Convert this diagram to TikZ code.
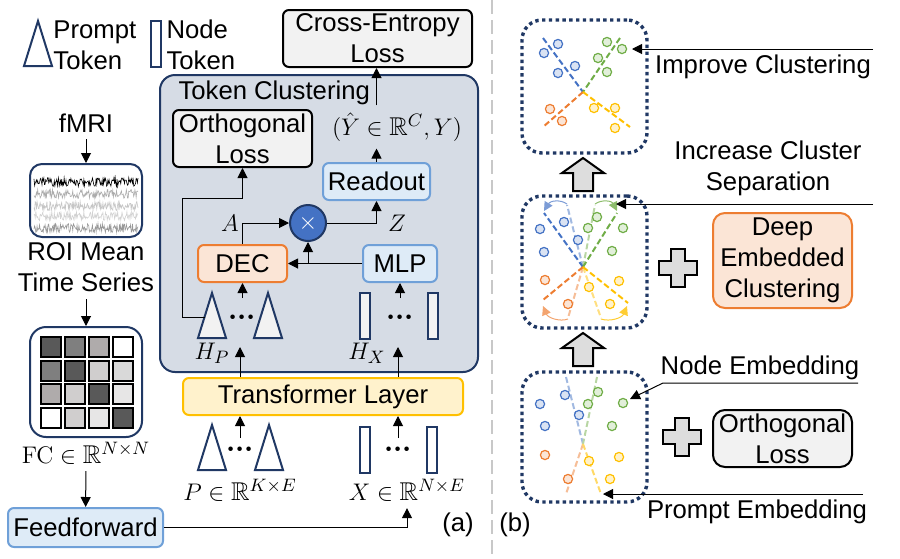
\documentclass[tikz,border=0pt]{standalone}
\usepackage{amsmath,amssymb}
\usepackage[no-math]{fontspec}
\setmainfont{Liberation Sans}
\usetikzlibrary{arrows.meta}

\definecolor{navy}{HTML}{203864}
\definecolor{tcfill}{HTML}{D6DCE5}
\definecolor{boxgray}{HTML}{F2F2F2}
\definecolor{bluefill}{HTML}{DEEBF7}
\definecolor{bluedge}{HTML}{6FA0D8}
\definecolor{orangefill}{HTML}{FBE5D6}
\definecolor{orangedge}{HTML}{ED7D31}
\definecolor{yfill}{HTML}{FFF2CC}
\definecolor{yedge}{HTML}{FFC000}
\definecolor{multblue}{HTML}{4472C4}
\definecolor{sepgray}{HTML}{C8C8C8}
\definecolor{arrgray}{HTML}{DDDDDD}
\definecolor{cblue}{HTML}{4472C4}
\definecolor{cgreen}{HTML}{70AD47}
\definecolor{corange}{HTML}{ED7D31}
\definecolor{cyellow}{HTML}{FFC000}
\definecolor{ga}{HTML}{595959}
\definecolor{gb}{HTML}{7F7F7F}
\definecolor{gc}{HTML}{AFABAB}
\definecolor{gd}{HTML}{D0CECE}
\definecolor{ge}{HTML}{D9D9D9}
\definecolor{gf}{HTML}{E7E6E6}

% prompt token (apex x, apex y, fill) and node token (left x, top y, fill)
\newcommand{\ptok}[3]{\draw[draw=navy,line width=1pt,fill=#3] (#1,#2)--++(-14,45)--++(28,0)--cycle;}
\newcommand{\ntok}[3]{\draw[draw=navy,line width=1pt,fill=#3] (#1,#2) rectangle ++(10,46);}
\newcommand{\uparr}[2]{\draw[line width=1pt,fill=arrgray] (#1,#2)--++(21,15)--++(-11,0)--++(0,18)--++(-20,0)--++(0,-18)--++(-11,0)--cycle;}
\newcommand{\plussign}[2]{\draw[line width=1pt,fill=arrgray] (#1,#2) ++(-7,-19)--++(14,0)--++(0,12)--++(12,0)--++(0,14)--++(-12,0)--++(0,12)--++(-14,0)--++(0,-12)--++(-12,0)--++(0,-14)--++(12,0)--cycle;}

\begin{document}
\begin{tikzpicture}[x=.5pt,y=-.5pt,>={Triangle[length=5pt,width=5pt]},
  every node/.style={font=\fontsize{12.85}{15.5}\selectfont},line width=.5pt,
  box/.style={draw,rounded corners=3pt,line width=1pt,align=center,inner sep=0pt},
  graybox/.style={box,fill=boxgray},
  bluebox/.style={box,draw=bluedge,fill=bluefill},
  orangebox/.style={box,draw=orangedge,fill=orangefill},
  clusterbox/.style={draw=navy,line width=1.7pt,dash pattern=on 1.7pt off 1.7pt,rounded corners=10pt,minimum width=62.5pt,inner sep=0pt},
  cdash/.style={line width=1pt,dash pattern=on 3pt off 1.5pt},
  dotrow/.style={inner sep=0pt,anchor=base,font=\fontsize{14}{14}\selectfont},
  small/.style={-{Triangle[length=4.5pt,width=4.5pt]}}]
\useasboundingbox (0,0) rectangle (900,558);

\draw[sepgray,line width=1pt,dash pattern=on 7pt off 3pt] (492,0)--(492,558);

% legend
\ptok{38}{21}{white}
\node[anchor=west,align=left,inner sep=0pt] (lgp) at (53,45) {Prompt\\Token};
\ntok{151}{21}{white}
\node[anchor=west,align=left,inner sep=0pt] (lgn) at (166,45) {Node\\Token};

% left column
\node (fmri) at (86,123) {fMRI};
\node[box,draw=navy,fill=white,rounded corners=6pt,minimum width=56pt,minimum height=36.5pt] (ts) at (86,200.5) {};
\draw[->] (fmri) -- (ts);
\pgfmathsetseed{7}
\foreach \yy/\cc in {228/gray!80,216/gray!35,206/gray!45,194/gray!65,182/black}
  \draw[\cc,line width=.3pt] plot[domain=34:138,samples=170] (\x,{\yy+4.5*rand});
\node[align=center] (roi) at (86,267.5) {ROI Mean\\Time Series};
\node[box,draw=navy,fill=white,rounded corners=8pt,minimum width=56pt,minimum height=55pt] (fc) at (86,382) {};
\draw[->] (roi) -- (fc);
\foreach \c [count=\k from 0] in {ga,gb,gc,white,gb,ga,gd,ge,gc,gd,ga,gf,white,gd,gf,ga}{
  \pgfmathtruncatemacro\i{mod(\k,4)}
  \pgfmathtruncatemacro\j{div(\k,4)}
  \draw[fill=\c,line width=1pt] ({41+24*\i},{337+23.5*\j}) rectangle ++(20,20);
}
\node (fclab) at (86,453) {$\mathrm{FC}\in\mathbb{R}^{N\times N}$};
\node[bluebox,minimum width=77.5pt,minimum height=19.5pt] (ff) at (85.5,527.5) {Feedforward};
\draw[->] (fclab) -- (ff);

% token clustering
\node[graybox,minimum width=94.5pt,minimum height=28.5pt] (ce) at (377.5,38.5) {Cross-Entropy\\Loss};
\node[draw=navy,fill=tcfill,line width=1pt,rounded corners=7.5pt,minimum width=159pt,minimum height=148.5pt] (tc) at (319,223.5) {};
\node[anchor=west,inner sep=0pt] (tclab) at (178,93) {Token Clustering};
\node[graybox,minimum width=69.5pt,minimum height=28.5pt] (orth) at (242.5,138.5) {Orthogonal\\Loss};
\node (yhat) at (397,127) {$(\hat{Y}\in\mathbb{R}^{C},Y)$};
\node[bluebox,minimum width=53.5pt,minimum height=18.5pt] (readout) at (376.5,181.5) {Readout};
\node[circle,draw=navy,fill=multblue,line width=1pt,minimum size=18pt,inner sep=0pt,text=white] (mult) at (308,223) {$\times$};
\node[orangebox,minimum width=44.5pt,minimum height=18.5pt] (dec) at (242.5,263.5) {DEC};
\node[bluebox,minimum width=37pt,minimum height=18.5pt] (mlp) at (400,263.5) {MLP};
\node (alab) at (230,223) {$A$};
\node (zlab) at (397,223) {$Z$};
\draw[->] (dec.north) |- (mult.west);
\draw[->] (mlp.west) -- (dec.east);
\draw[->] (mult.south |- mlp.west) -- (mult.south);
\draw[->] (mult.east) -| (readout.south);
\draw[->] (readout.north) -- (readout.north |- yhat.south);
\draw[->] (readout.north |- yhat.north) -- (readout.north |- ce.south);

\ptok{212}{293}{boxgray}
\ptok{268}{293}{boxgray}
\node[dotrow] (hpdots) at (242,324) {$\boldsymbol{{\cdot}{\cdot}{\cdot}}$};
\ntok{360}{293}{boxgray}
\ntok{428}{293}{boxgray}
\node[dotrow] (hxdots) at (400,324) {$\boldsymbol{{\cdot}{\cdot}{\cdot}}$};
\node (hp) at (212,353) {$H_P$};
\node (hx) at (367,353) {$H_X$};
\coordinate (decin) at (242.5,298);
\coordinate (mlpin) at (400,298);
\draw[->] (decin) -- (dec.south);
\draw[->] (mlpin) -- (mlp.south);
\coordinate (hpside) at (205,317);
\coordinate (orthturn) at (182,198);
\draw[->] (hpside) -| (orthturn) -| (orth.south);

% transformer and inputs
\node[box,draw=yedge,fill=yfill,minimum width=140pt,minimum height=18.5pt] (tf) at (323,396.5) {Transformer Layer};
\coordinate (hpin) at (240,347);
\coordinate (hxin) at (398,347);
\draw[->] (tf.north -| hpin) -- (hpin);
\draw[->] (tf.north -| hxin) -- (hxin);
\ptok{212}{425}{white}
\ptok{269}{425}{white}
\node[dotrow] (pdots) at (240,456) {$\boldsymbol{{\cdot}{\cdot}{\cdot}}$};
\ntok{360}{427}{white}
\ntok{427}{427}{white}
\node[dotrow] (xdots) at (398,456) {$\boldsymbol{{\cdot}{\cdot}{\cdot}}$};
\coordinate (pout) at (240,438);
\coordinate (xout) at (398,438);
\draw[->] (pout) -- (tf.south -| pout);
\draw[->] (xout) -- (tf.south -| xout);
\node (plab) at (240,490) {$P\in\mathbb{R}^{K\times E}$};
\node (xlab) at (407,490) {$X\in\mathbb{R}^{N\times E}$};
\draw[->] (ff.east) -| (xlab.south);
\node (alabel) at (458,525) {(a)};

% (b) clusters
\node[clusterbox,minimum height=66.5pt] (cl3) at (584.5,86.5) {};
\node[clusterbox,minimum height=66pt] (cl2) at (584.5,262) {};
\node[clusterbox,minimum height=65pt] (cl1) at (584.5,437) {};
\uparr{583}{158}
\uparr{583}{333}

% improved clusters
\coordinate (c3) at (583,92);
\draw[cdash,cblue] (543,38)--(c3);
\draw[cdash,cgreen] (620,38)--(c3);
\draw[cdash,corange] (c3)--(543,127);
\draw[cdash,cyellow] (c3)--(630,127);
\foreach \px/\py/\cc in {544/53/cblue,558/44/cblue,558/73/cblue,575/66/cblue,
  607/42/cgreen,622/49/cgreen,598/58/cgreen,607/72/cgreen,
  550/109/corange,562/121/corange,594/108/cyellow,615/108/cyellow,615/128/cyellow}
  \draw[\cc,fill=\cc!20,line width=.6pt] (\px,\py) circle[radius=2.3pt];

% separation
\coordinate (c2) at (583,267);
\foreach \ex/\ey/\cc in {567/205/cblue,595/205/cgreen,568/318/corange,601/318/cyellow}
  \draw[cdash,\cc!50] (c2)--(\ex,\ey);
\foreach \ex/\ey/\cc in {544/213/cblue,617/213/cgreen,543/300/corange,628/303/cyellow}
  \draw[cdash,\cc] (c2)--(\ex,\ey);
\draw[small,cblue!70] (567,204) .. controls (560,199) and (550,201) .. (544,211);
\draw[small,cgreen!80] (595,204) .. controls (602,199) and (612,201) .. (617,211);
\draw[small,corange!70] (568,319) .. controls (560,322) and (548,318) .. (543,306);
\draw[small,cyellow!80] (601,319) .. controls (610,322) and (622,318) .. (627,306);
\foreach \px/\py/\cc in {540/229/cblue,564/222/cblue,578/240/cblue,544/252/cblue,
  597/217/cgreen,588/228/cgreen,623/228/cgreen,612/251/cgreen,
  545/280/corange,568/304/corange,619/281/cyellow,589/287/cyellow,610/304/cyellow}
  \draw[\cc,fill=\cc!20,line width=.6pt] (\px,\py) circle[radius=2.3pt];

% initial embeddings
\coordinate (c1) at (583,444);
\draw[cdash,cblue!50] (566,377)--(c1);
\draw[cdash,cgreen!50] (597,377)--(c1);
\draw[cdash,corange!50] (c1)--(566,494);
\draw[cdash,cyellow!60] (c1)--(601,494);
\foreach \px/\py/\cc in {540/404/cblue,565/395/cblue,579/415/cblue,545/426/cblue,
  598/392/cgreen,588/404/cgreen,623/403/cgreen,612/426/cgreen,
  545/455/corange,568/479/corange,619/457/cyellow,589/461/cyellow,610/479/cyellow}
  \draw[\cc,fill=\cc!20,line width=.6pt] (\px,\py) circle[radius=2.3pt];

% right labels
\plussign{678}{268}
\plussign{682}{437}
\node[orangebox,rounded corners=6pt,minimum width=69.5pt,minimum height=47.5pt] (decr) at (782.5,260.5) {Deep\\Embedded\\Clustering};
\node[graybox,rounded corners=6pt,minimum width=69.5pt,minimum height=28.5pt] (orthr) at (782.5,438.5) {Orthogonal\\Loss};
\node (imp) at (763,67) {Improve Clustering};
\coordinate (imp0) at (873,49);
\coordinate (imp1) at (632,49);
\draw[->] (imp0) -- (imp1);
\node[align=center] (sep) at (768,168) {Increase Cluster\\Separation};
\coordinate (sep0) at (873,204);
\coordinate (sep1) at (616,204);
\draw[->] (sep0) -- (sep1);
\node (nemb) at (760,368) {Node Embedding};
\coordinate (ne0) at (858,383);
\coordinate (ne1) at (663,383);
\coordinate (ne2) at (630,399);
\draw[->] (ne0) -- (ne1) -- (ne2);
\node (pemb) at (757,512) {Prompt Embedding};
\coordinate (pe0) at (863,494);
\coordinate (pe1) at (603,494);
\draw[->] (pe0) -- (pe1);
\node (blabel) at (515,525) {(b)};
\end{tikzpicture}
\end{document}
